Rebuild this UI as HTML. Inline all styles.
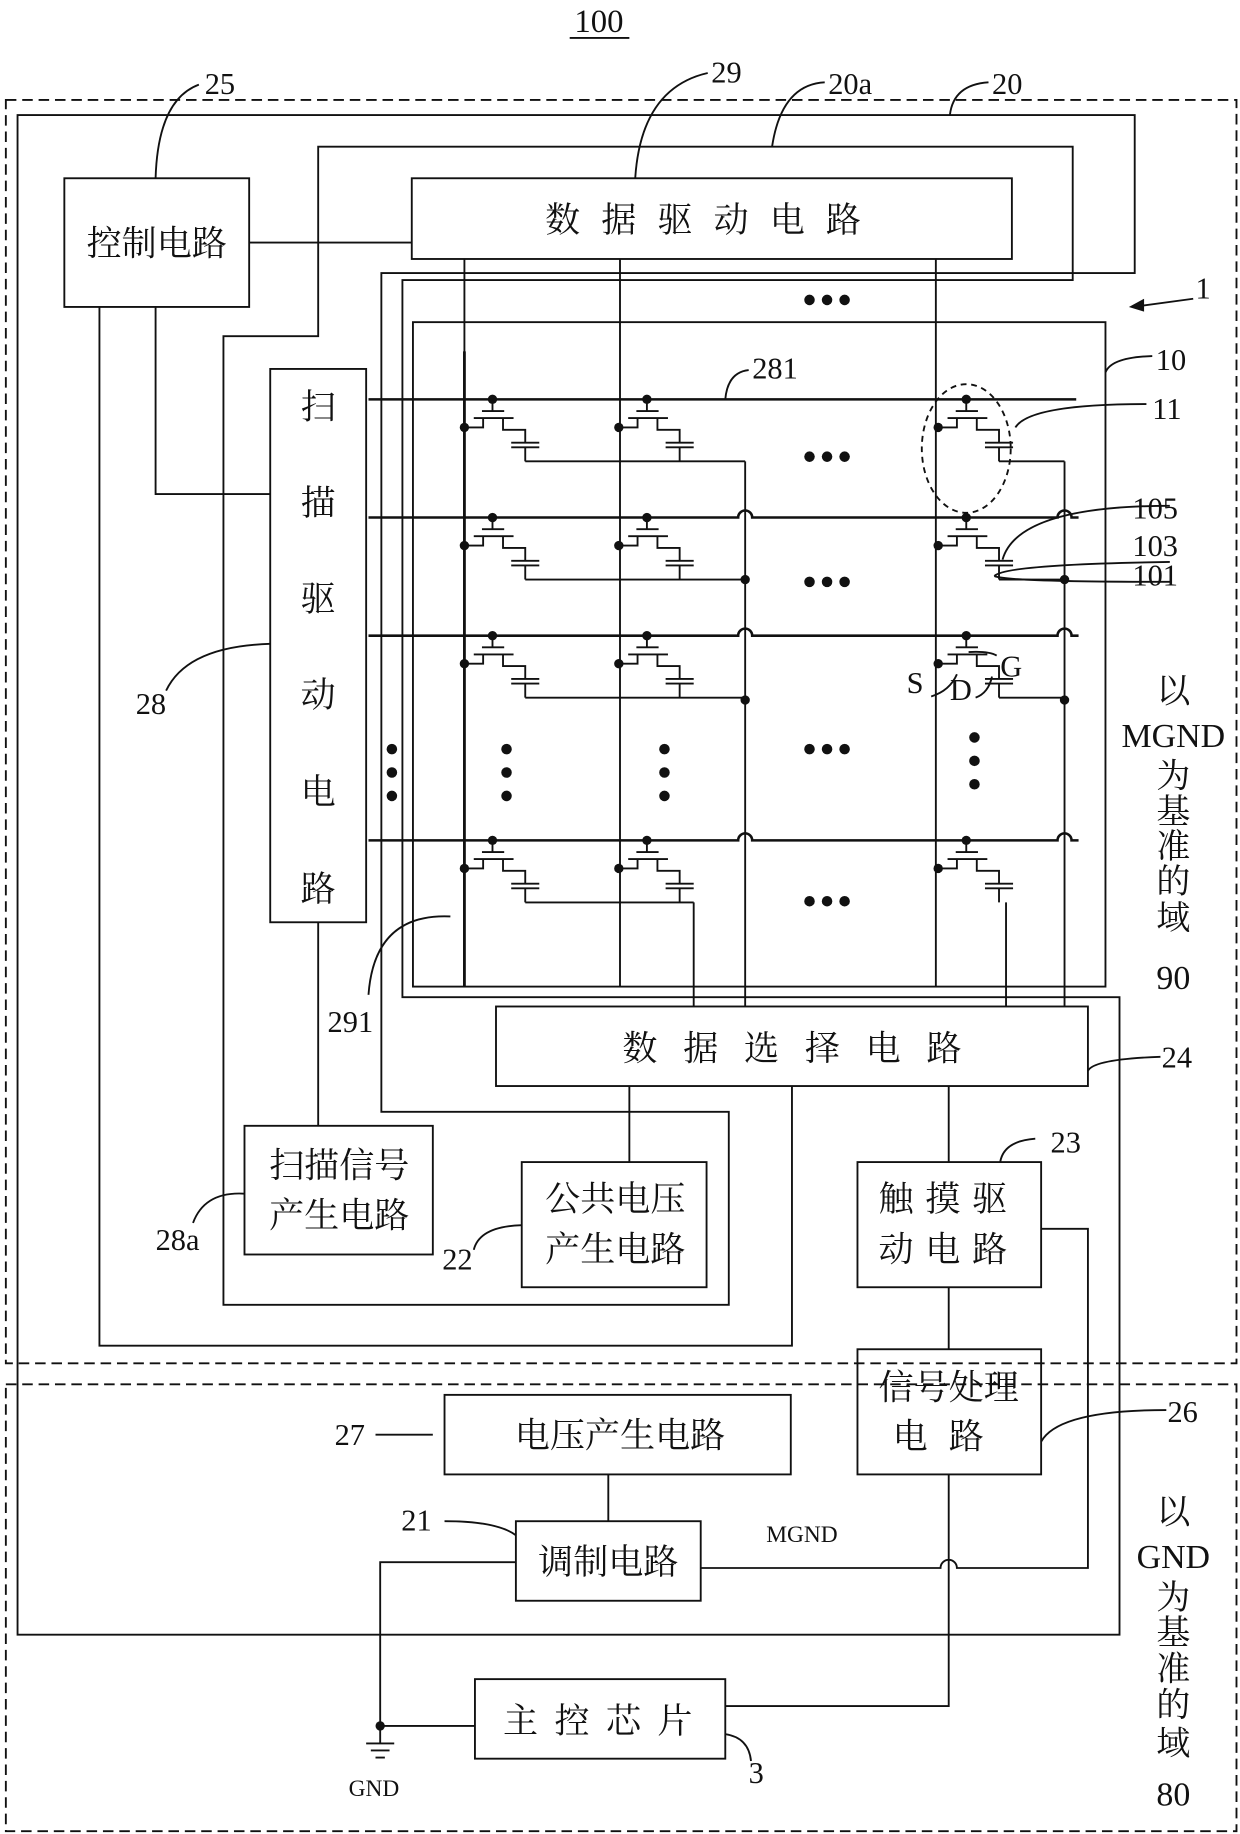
<!DOCTYPE html>
<html><head><meta charset="utf-8"><style>
html,body{margin:0;padding:0;background:#fff}
svg{display:block}
text{font-family:"Liberation Serif","Noto Serif CJK SC",serif;fill:#111}
</style></head><body>
<svg width="1240" height="1834" viewBox="0 0 1060 1567" xmlns="http://www.w3.org/2000/svg">
<defs>
<g id="cell" fill="none" stroke="#111" stroke-width="1.6">
<path d="M0,0V10M-9,10H10M-16,16H18M-24,24H-8V16M9,16V26H28V37M16,37H40M16,41H40M28,41V53"/>
<circle cx="0" cy="0" r="4" fill="#111" stroke="none"/>
<circle cx="-24" cy="24" r="4" fill="#111" stroke="none"/>
</g>
<g id="hd" fill="#111"><circle cx="0" cy="0" r="4.5"/><circle cx="15" cy="0" r="4.5"/><circle cx="30" cy="0" r="4.5"/></g>
<g id="vd" fill="#111"><circle cx="0" cy="0" r="4.5"/><circle cx="0" cy="20" r="4.5"/><circle cx="0" cy="40" r="4.5"/></g>
</defs>
<g fill="none" stroke="#111" stroke-width="1.6">
<rect x="5" y="85" width="1052" height="1080" stroke-dasharray="9,5"/>
<rect x="5" y="1183" width="1052" height="382" stroke-dasharray="9,5"/>
<path d="M15,98H970V233H326V950H623V1115H191V287H272V125H917V239H344V852H957V1397H15Z"/>
<path d="M85,262V1150H677V928"/>
<rect x="353" y="275" width="592" height="568"/>
<rect x="55" y="152" width="158" height="110"/>
<rect x="352" y="152" width="513" height="69"/>
<rect x="231" y="315" width="82" height="473"/>
<rect x="209" y="962" width="161" height="110"/>
<rect x="446" y="993" width="158" height="107"/>
<rect x="424" y="860" width="506" height="68"/>
<rect x="733" y="993" width="157" height="107"/>
<rect x="733" y="1153" width="157" height="107"/>
<rect x="380" y="1192" width="296" height="68"/>
<rect x="441" y="1300" width="158" height="68"/>
<rect x="406" y="1435" width="214" height="68"/>
<path d="M213,207H352M133,262V422H231M272,788V962M538,928V993M811,928V993M811,1100V1153M520,1260V1300"/>
<path d="M890,1050H930V1340H818A7,7 0 0 0 804,1340H599"/>
<path d="M811,1260V1458H620"/>
<path d="M441,1335H325V1490M325,1475H406"/>
<path d="M313,1490H337M317,1496H333M321,1502H329"/>
<path d="M397,221V843M530,221V843M800,221V843"/>
<path d="M397,300V843" stroke-width="2.4"/>
<g stroke-width="2.2">
<path d="M315,341H920"/>
<path d="M315,442H631A6,6 0 0 1 643,442H904A6,6 0 0 1 916,442H922"/>
<path d="M315,543H631A6,6 0 0 1 643,543H904A6,6 0 0 1 916,543H922"/>
<path d="M315,718H631A6,6 0 0 1 643,718H904A6,6 0 0 1 916,718H922"/>
</g>
<path d="M637,394V860M910,394V860M593,771V860M860,771V860"/>
<path d="M449,394H637M449,495H637M449,596H637M854,394H910M854,495H910M854,596H910M449,771H593M581,771H593"/>
<ellipse cx="826" cy="383" rx="38" ry="55" stroke-dasharray="5,4"/>
<path d="M133,152Q135,85 170,72"/>
<path d="M543,152Q548,75 605,62"/>
<path d="M660,125Q668,72 705,70"/>
<path d="M812,98Q815,72 845,70"/>
<path d="M945,318Q950,305 985,304"/>
<path d="M620,341Q622,318 640,316"/>
<path d="M868,365Q880,345 980,345"/>
<path d="M857,478Q870,432 1000,432"/>
<path d="M850,492Q860,482 1000,480M850,492Q860,497 1000,497"/>
<path d="M231,550Q160,552 142,590"/>
<path d="M385,783Q320,780 315,850"/>
<path d="M930,915Q935,905 992,903"/>
<path d="M855,993Q858,975 885,973"/>
<path d="M209,1020Q175,1018 165,1045"/>
<path d="M446,1047Q410,1048 405,1068"/>
<path d="M890,1232Q905,1205 997,1205"/>
<path d="M321,1226H370"/>
<path d="M441,1312Q425,1300 380,1300"/>
<path d="M620,1482Q640,1485 642,1505"/>
<path d="M828,557Q845,556 852,560M818,576Q812,590 796,595M848,578Q845,592 834,596"/>
<path d="M1020,255L968,262"/>
</g>
<path d="M965,262L978,255L978,266Z" fill="#111"/>
<circle cx="325" cy="1475" r="4" fill="#111"/>
<use href="#cell" x="421" y="341"/><use href="#cell" x="553" y="341"/><use href="#cell" x="826" y="341"/>
<use href="#cell" x="421" y="442"/><use href="#cell" x="553" y="442"/><use href="#cell" x="826" y="442"/>
<use href="#cell" x="421" y="543"/><use href="#cell" x="553" y="543"/><use href="#cell" x="826" y="543"/>
<use href="#cell" x="421" y="718"/><use href="#cell" x="553" y="718"/><use href="#cell" x="826" y="718"/>
<g fill="#111">
<circle cx="637" cy="495" r="4"/><circle cx="637" cy="598" r="4"/><circle cx="910" cy="495" r="4"/><circle cx="910" cy="598" r="4"/>
</g>
<use href="#hd" x="692" y="256"/><use href="#hd" x="692" y="390"/><use href="#hd" x="692" y="497"/><use href="#hd" x="692" y="640"/><use href="#hd" x="692" y="770"/>
<use href="#vd" x="335" y="640"/><use href="#vd" x="433" y="640"/><use href="#vd" x="568" y="640"/><use href="#vd" x="833" y="630"/>
<g font-size="30" text-anchor="middle">
<text x="512" y="27" font-size="28">100</text>
<text x="134" y="218">控制电路</text>
<text x="610" y="198" letter-spacing="18">数据驱动电路</text>
<text x="272" y="358">扫</text><text x="272" y="440">描</text><text x="272" y="522">驱</text><text x="272" y="604">动</text><text x="272" y="687">电</text><text x="272" y="770">路</text>
<text x="290" y="1006">扫描信号</text><text x="290" y="1049">产生电路</text>
<text x="526" y="1035">公共电压</text><text x="526" y="1078">产生电路</text>
<text x="688" y="906" letter-spacing="22">数据选择电路</text>
<text x="811" y="1035" letter-spacing="10">触摸驱</text><text x="811" y="1078" letter-spacing="10">动电路</text>
<text x="811" y="1196">信号处理</text><text x="811" y="1238" letter-spacing="18">电路</text>
<text x="530" y="1237">电压产生电路</text>
<text x="520" y="1345">调制电路</text>
<text x="518" y="1481" letter-spacing="14">主控芯片</text>
</g>
<g font-size="29" text-anchor="middle">
<text x="1003" y="600">以</text><text x="1003" y="638">MGND</text><text x="1003" y="673">为</text><text x="1003" y="703">基</text><text x="1003" y="733">准</text><text x="1003" y="763">的</text><text x="1003" y="794">域</text><text x="1003" y="845">90</text>
<text x="1003" y="1302">以</text><text x="1003" y="1340">GND</text><text x="1003" y="1375">为</text><text x="1003" y="1405">基</text><text x="1003" y="1436">准</text><text x="1003" y="1467">的</text><text x="1003" y="1500">域</text><text x="1003" y="1543">80</text>
</g>
<path d="M487,32H538" stroke="#111" stroke-width="1.6"/>
<g font-size="26">
<text x="175" y="80">25</text><text x="608" y="70">29</text><text x="708" y="80">20a</text><text x="848" y="80">20</text>
<text x="1022" y="255">1</text><text x="988" y="316">10</text><text x="643" y="323">281</text>
<text x="985" y="358">11</text><text x="968" y="443">105</text><text x="968" y="475">103</text><text x="968" y="500">101</text>
<text x="775" y="592">S</text><text x="812" y="598">D</text><text x="855" y="578">G</text>
<text x="116" y="610">28</text><text x="280" y="882">291</text><text x="993" y="912">24</text><text x="898" y="985">23</text>
<text x="133" y="1068">28a</text><text x="378" y="1085">22</text><text x="998" y="1215">26</text><text x="286" y="1235">27</text><text x="343" y="1308">21</text>
<text x="640" y="1524">3</text>
<text x="298" y="1535" font-size="20">GND</text><text x="655" y="1318" font-size="20">MGND</text>
</g>
</svg>
</body></html>
